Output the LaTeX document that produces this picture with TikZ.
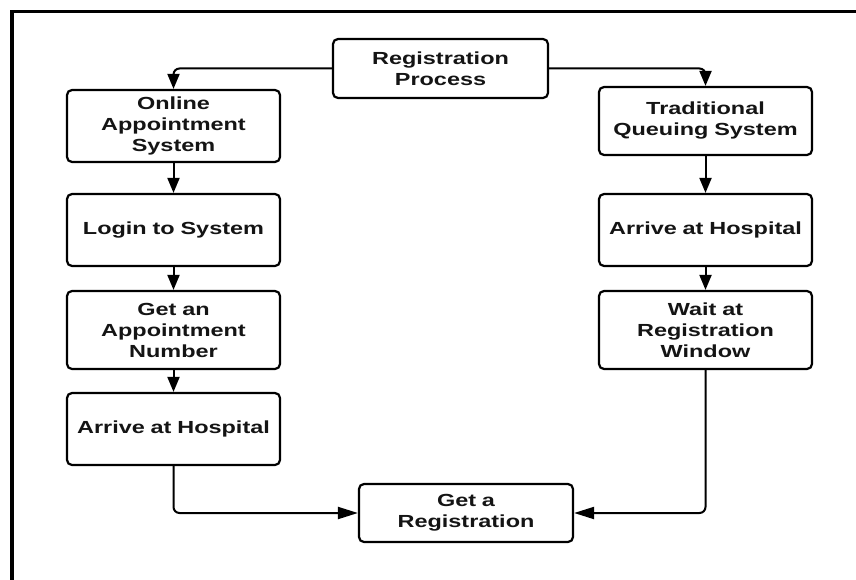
\documentclass[tikz,border=0pt]{standalone}
\usepackage{fontspec}
\setmainfont{Liberation Sans}[FakeStretch=1.34]
\usetikzlibrary{arrows.meta}
\begin{document}
\begin{tikzpicture}[x=1pt,y=-1pt,
  box/.style={draw=black, line width=2.2pt, rounded corners=5pt, align=center,
    inner sep=0pt, text width=205pt, minimum width=213pt,
    font=\fontsize{17.5}{21}\selectfont\bfseries, text=black!92},
  link/.style={draw=black, line width=2pt, rounded corners=6pt},
  vtip/.style={-{Triangle[width=12pt,length=15pt]}},
  htip/.style={-{Triangle[width=12pt,length=20pt]}},
]
% canvas and frame
\fill[white] (0,0) rectangle (856,580);
\useasboundingbox (0,0) rectangle (856,580);
\draw[line width=3.5pt] (12,580) -- (12,11.5) -- (856,11.5);

% boxes
\node[box, minimum width=215pt, minimum height=59pt] (reg) at (440.5,68.5) {Registration\\Process};

\node[box, minimum height=72pt] (online) at (173.5,126) {Online\\Appointment\\System};
\node[box, minimum height=72pt] (login)  at (173.5,230) {Login to System};
\node[box, minimum height=78pt] (getnum) at (173.5,330) {Get an\\Appointment\\Number};
\node[box, minimum height=72pt] (arrL)   at (173.5,429) {Arrive at Hospital};

\node[box, minimum height=68pt] (trad)  at (705.5,121) {Traditional\\Queuing System};
\node[box, minimum height=72pt] (arrR)  at (705.5,230) {Arrive at Hospital};
\node[box, minimum height=78pt] (wait)  at (705.5,330) {Wait at\\Registration\\Window};

\node[box, minimum width=214pt, minimum height=58pt] (getreg) at (466,513) {Get a\\Registration};

% connectors
\draw[link, vtip] (reg.west) -| (online.north);
\draw[link, vtip] (reg.east) -| (trad.north);

\draw[link, vtip] (online) -- (login);
\draw[link, vtip] (login) -- (getnum);
\draw[link, vtip] (getnum) -- (arrL);

\draw[link, vtip] (trad) -- (arrR);
\draw[link, vtip] (arrR) -- (wait);

\draw[link, htip] (arrL.south) |- (getreg.west);
\draw[link, htip] (wait.south) |- (getreg.east);
\end{tikzpicture}
\end{document}
